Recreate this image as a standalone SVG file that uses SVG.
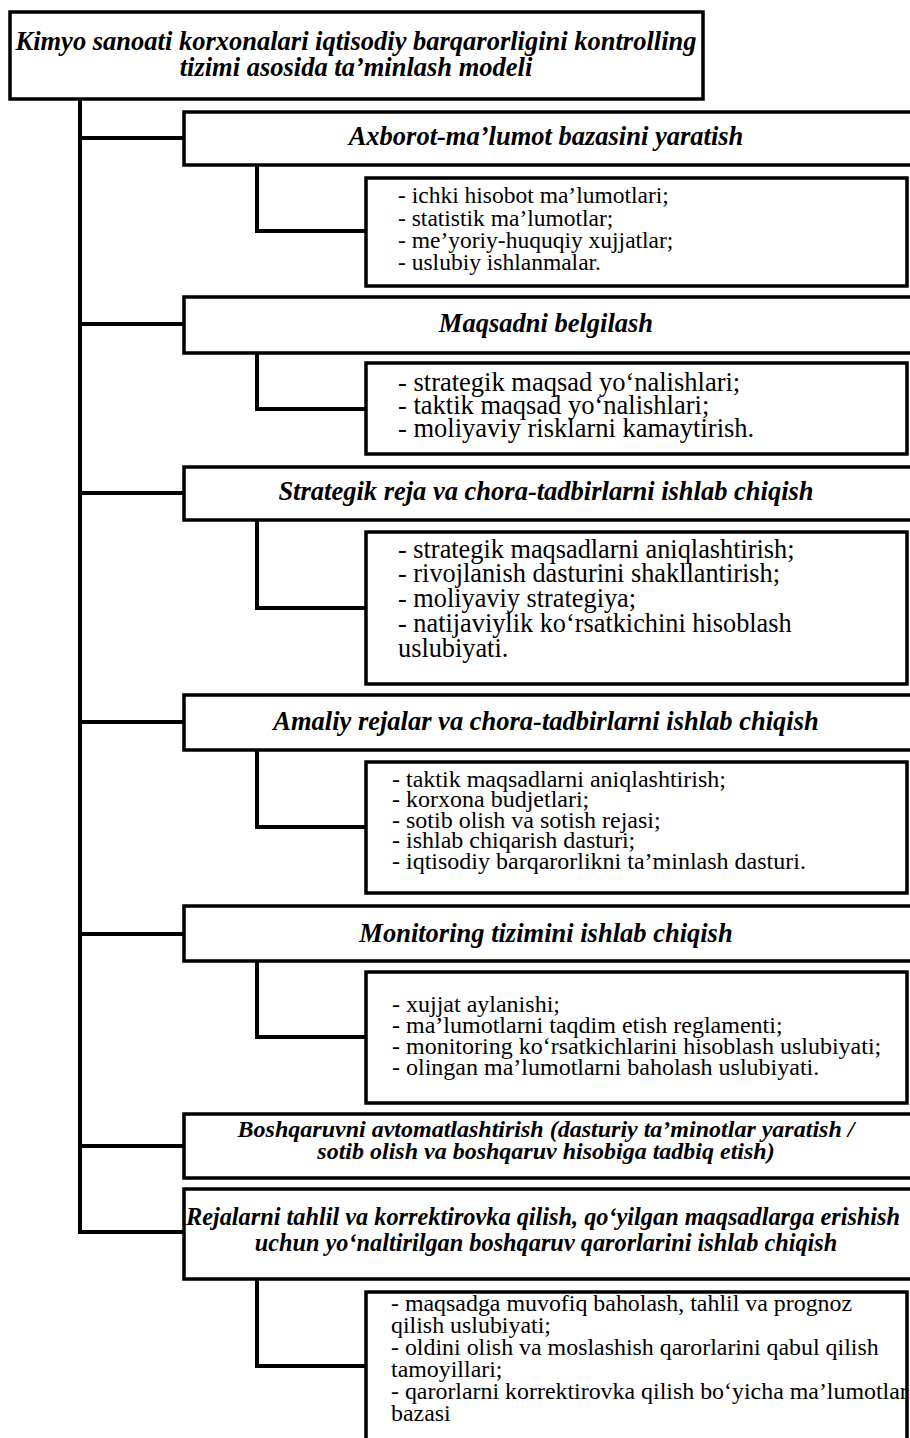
<svg xmlns="http://www.w3.org/2000/svg" width="910" height="1438" viewBox="0 0 910 1438">
<style>
.box{fill:#fff;stroke:#000;stroke-width:3.5}
.con{fill:none;stroke:#000;stroke-width:4;stroke-linejoin:miter}
.hdr{font-family:"Liberation Serif","Times New Roman",serif;font-weight:bold;font-style:italic;text-anchor:middle;fill:#000}
.lst{font-family:"Liberation Serif","Times New Roman",serif;fill:#000}
</style>
<rect width="910" height="1438" fill="#fff"/>
<g id="connectors">
<path class="con" d="M80,99 V1232 H184"/>
<path class="con" d="M80,138 H184 M80,324 H184 M80,493 H184 M80,722 H184 M80,934 H184 M80,1146 H184"/>
<path class="con" d="M257,165 V231 H366"/>
<path class="con" d="M257,353 V409 H366"/>
<path class="con" d="M257,520 V608 H366"/>
<path class="con" d="M257,750 V827 H366"/>
<path class="con" d="M257,961 V1037 H366"/>
<path class="con" d="M257,1279 V1366 H366"/>
</g>
<g id="title">
<rect class="box" x="10" y="12" width="693" height="87"/>
<text class="hdr" font-size="26.5" x="356" y="50">Kimyo sanoati korxonalari iqtisodiy barqarorligini kontrolling</text>
<text class="hdr" font-size="26.5" x="356" y="76">tizimi asosida ta’minlash modeli</text>
</g>
<g id="n1">
<rect class="box" x="184" y="112" width="730" height="53"/>
<text class="hdr" font-size="26.5" x="546" y="145">Axborot-ma’lumot bazasini yaratish</text>
</g>
<g id="n1c">
<rect class="box" x="366" y="178" width="541" height="108"/>
<text class="lst" font-size="23.5" x="398" y="203">- ichki hisobot ma’lumotlari;</text>
<text class="lst" font-size="23.5" x="398" y="226">- statistik ma’lumotlar;</text>
<text class="lst" font-size="23.5" x="398" y="248">- me’yoriy-huquqiy xujjatlar;</text>
<text class="lst" font-size="23.5" x="398" y="270">- uslubiy ishlanmalar.</text>
</g>
<g id="n2">
<rect class="box" x="184" y="297" width="730" height="56"/>
<text class="hdr" font-size="26.5" x="546" y="332">Maqsadni belgilash</text>
</g>
<g id="n2c">
<rect class="box" x="366" y="363" width="541" height="91"/>
<text class="lst" font-size="26.5" x="398" y="391">- strategik maqsad yo‘nalishlari;</text>
<text class="lst" font-size="26.5" x="398" y="414">- taktik maqsad yo‘nalishlari;</text>
<text class="lst" font-size="26.5" x="398" y="437">- moliyaviy risklarni kamaytirish.</text>
</g>
<g id="n3">
<rect class="box" x="184" y="467" width="730" height="53"/>
<text class="hdr" font-size="26.5" x="546" y="500">Strategik reja va chora-tadbirlarni ishlab chiqish</text>
</g>
<g id="n3c">
<rect class="box" x="366" y="532" width="541" height="152"/>
<text class="lst" font-size="26.3" x="398" y="558">- strategik maqsadlarni aniqlashtirish;</text>
<text class="lst" font-size="26.3" x="398" y="582">- rivojlanish dasturini shakllantirish;</text>
<text class="lst" font-size="26.3" x="398" y="607">- moliyaviy strategiya;</text>
<text class="lst" font-size="26.3" x="398" y="632">- natijaviylik ko‘rsatkichini hisoblash</text>
<text class="lst" font-size="26.3" x="398" y="657">uslubiyati.</text>
</g>
<g id="n4">
<rect class="box" x="184" y="695" width="730" height="55"/>
<text class="hdr" font-size="26.5" x="546" y="730">Amaliy rejalar va chora-tadbirlarni ishlab chiqish</text>
</g>
<g id="n4c">
<rect class="box" x="366" y="762" width="541" height="131"/>
<text class="lst" font-size="24" x="392" y="787">- taktik maqsadlarni aniqlashtirish;</text>
<text class="lst" font-size="24" x="392" y="807">- korxona budjetlari;</text>
<text class="lst" font-size="24" x="392" y="828">- sotib olish va sotish rejasi;</text>
<text class="lst" font-size="24" x="392" y="848">- ishlab chiqarish dasturi;</text>
<text class="lst" font-size="24" x="392" y="869">- iqtisodiy barqarorlikni ta’minlash dasturi.</text>
</g>
<g id="n5">
<rect class="box" x="184" y="906" width="730" height="55"/>
<text class="hdr" font-size="26.5" x="546" y="942">Monitoring tizimini ishlab chiqish</text>
</g>
<g id="n5c">
<rect class="box" x="366" y="972" width="541" height="131"/>
<text class="lst" font-size="24" x="392" y="1012">- xujjat aylanishi;</text>
<text class="lst" font-size="24" x="392" y="1033">- ma’lumotlarni taqdim etish reglamenti;</text>
<text class="lst" font-size="24" x="392" y="1054">- monitoring ko‘rsatkichlarini hisoblash uslubiyati;</text>
<text class="lst" font-size="24" x="392" y="1075">- olingan ma’lumotlarni baholash uslubiyati.</text>
</g>
<g id="n6">
<rect class="box" x="184" y="1114" width="730" height="64"/>
<text class="hdr" font-size="24" x="546" y="1137">Boshqaruvni avtomatlashtirish (dasturiy ta’minotlar yaratish /</text>
<text class="hdr" font-size="24" x="546" y="1159">sotib olish va boshqaruv hisobiga tadbiq etish)</text>
</g>
<g id="n7">
<rect class="box" x="184" y="1189" width="730" height="90"/>
<text class="hdr" font-size="24.3" x="543" y="1225">Rejalarni tahlil va korrektirovka qilish, qo‘yilgan maqsadlarga erishish</text>
<text class="hdr" font-size="24.3" x="546" y="1251">uchun yo‘naltirilgan boshqaruv qarorlarini ishlab chiqish</text>
</g>
<g id="n7c">
<rect class="box" x="366" y="1292" width="541" height="160"/>
<text class="lst" font-size="23.9" x="391" y="1311">- maqsadga muvofiq baholash, tahlil va prognoz</text>
<text class="lst" font-size="23.9" x="391" y="1333">qilish uslubiyati;</text>
<text class="lst" font-size="23.9" x="391" y="1355">- oldini olish va moslashish qarorlarini qabul qilish</text>
<text class="lst" font-size="23.9" x="391" y="1377">tamoyillari;</text>
<text class="lst" font-size="23.9" x="391" y="1399">- qarorlarni korrektirovka qilish bo‘yicha ma’lumotlar</text>
<text class="lst" font-size="23.9" x="391" y="1421">bazasi</text>
</g>
</svg>
